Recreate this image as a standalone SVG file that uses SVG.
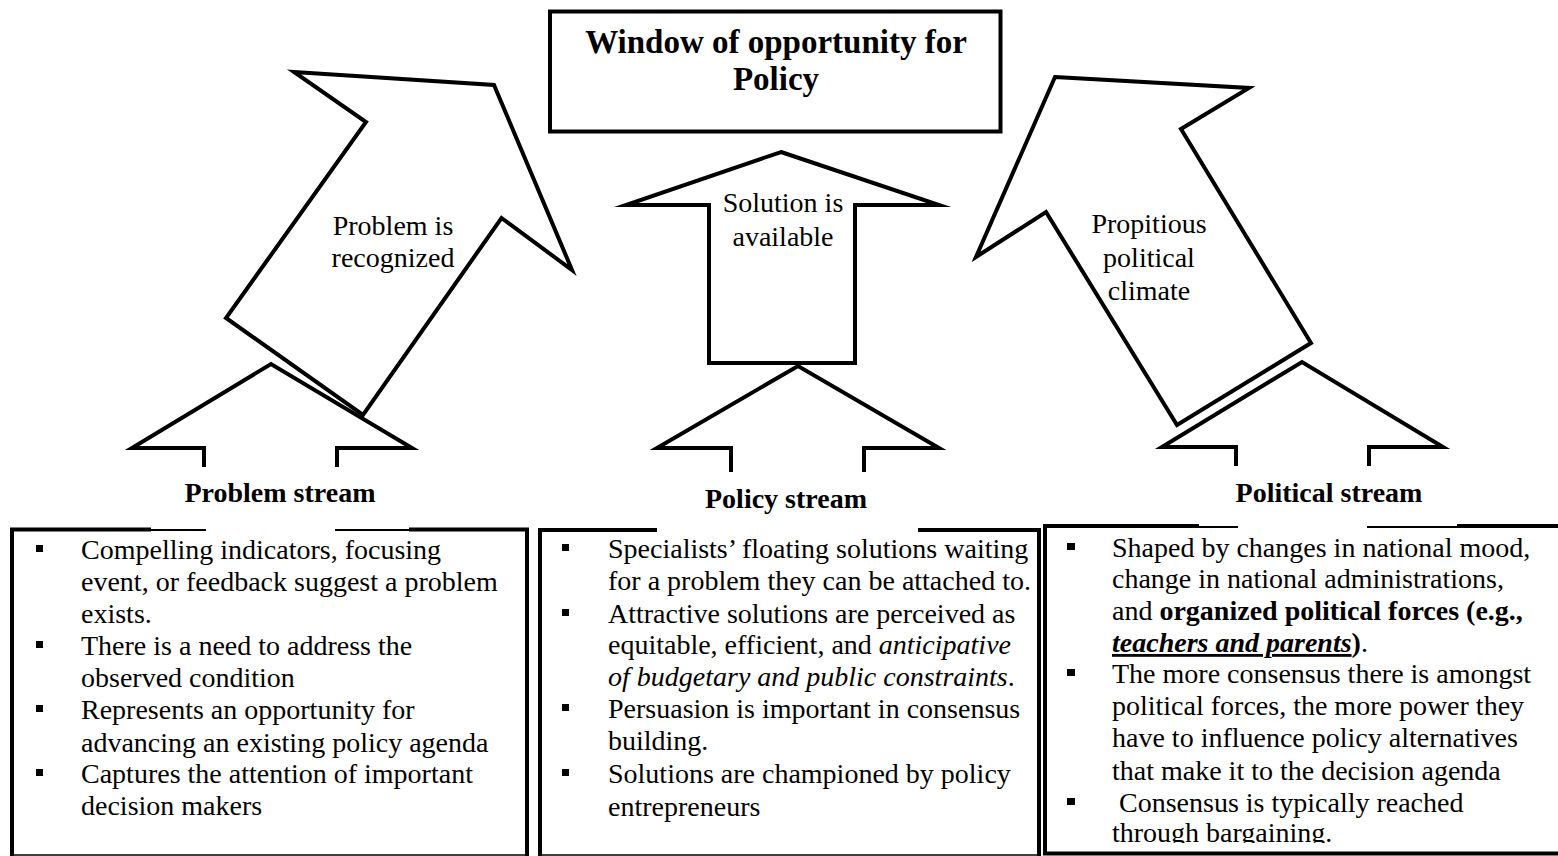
<svg xmlns="http://www.w3.org/2000/svg" width="1558" height="856" viewBox="0 0 1558 856">
  <style>
    .shape { fill: #ffffff; stroke: #000000; stroke-width: 4; stroke-linejoin: miter; stroke-miterlimit: 10; }
    .open { fill: none; stroke: #000000; stroke-width: 4; stroke-linejoin: miter; stroke-miterlimit: 10; }
    .edge { fill: none; stroke: #000000; stroke-width: 4; }
    .thin { fill: none; stroke: #000000; stroke-width: 2; }
    .hair { fill: none; stroke: #000000; stroke-width: 1.5; }
    text { font-family: "Liberation Serif", "Times New Roman", serif; fill: #000000; }
    .title { font-size: 33px; font-weight: bold; text-anchor: middle; }
    .label { font-size: 28px; text-anchor: middle; }
    .stream { font-size: 28px; font-weight: bold; text-anchor: middle; }
    .body { font-size: 28px; }
    .b { font-weight: bold; }
    .i { font-style: italic; }
    .bullet { fill: #000000; }
  </style>
  <defs>
    <clipPath id="politicalClip">
      <rect x="1047" y="528" width="511" height="315"/>
    </clipPath>
  </defs>

  <!-- goal box -->
  <g id="window-of-opportunity">
    <rect class="shape" x="550" y="11.5" width="450.5" height="120" stroke-width="4.5"/>
    <text class="title" x="776" y="53">Window of opportunity for</text>
    <text class="title" x="776" y="90">Policy</text>
  </g>

  <!-- large arrows carrying each stream towards the window -->
  <g id="connectors">
    <polygon class="shape" points="294,72 494,85 572,270 501.5,218 363,415 226,318 366,122"/>
    <polygon class="shape" points="781,152 939,205 855,205 855,363 709,363 709,205 626,205"/>
    <polygon class="shape" points="1055,77 1249,88 1181,129 1311,343 1177,425 1046,212 976,257"/>
    <path class="open" d="M204 467 V448 H132 L271 364 L412 448 H337 V467"/>
    <path class="open" d="M731 472 V448 H657 L798 366 L939 448 H864 V472"/>
    <path class="open" d="M1236 466 V447 H1162 L1302 362 L1443 447 H1369 V466"/>
  </g>

  <g id="label-problem-recognized">
    <text class="label" x="393" y="235">Problem is</text>
    <text class="label" x="393" y="267">recognized</text>
  </g>
  <g id="label-solution-available">
    <text class="label" x="783" y="212">Solution is</text>
    <text class="label" x="783" y="246">available</text>
  </g>
  <g id="label-political-climate">
    <text class="label" x="1149" y="233">Propitious</text>
    <text class="label" x="1149" y="267">political</text>
    <text class="label" x="1149" y="300">climate</text>
  </g>

  <!-- problem stream -->
  <g id="problem-stream">
    <text class="stream" x="280" y="502">Problem stream</text>
    <path class="edge" d="M12 527.5 V856 M527 527.5 V856 M10 529.5 H151 M409 529.5 H529"/>
    <path class="thin" d="M151 530 H206 M335 530 H409"/>
    <path class="hair" d="M10 855 H529"/>
    <rect class="bullet" x="36" y="545" width="7" height="7"/>
    <rect class="bullet" x="36" y="641" width="7" height="7"/>
    <rect class="bullet" x="36" y="705" width="7" height="7"/>
    <rect class="bullet" x="36" y="769" width="7" height="7"/>
    <text class="body" x="81" y="559">Compelling indicators, focusing</text>
    <text class="body" x="81" y="591">event, or feedback suggest a problem</text>
    <text class="body" x="81" y="623">exists.</text>
    <text class="body" x="81" y="655">There is a need to address the</text>
    <text class="body" x="81" y="687">observed condition</text>
    <text class="body" x="81" y="719">Represents an opportunity for</text>
    <text class="body" x="81" y="752">advancing an existing policy agenda</text>
    <text class="body" x="81" y="783">Captures the attention of important</text>
    <text class="body" x="81" y="815">decision makers</text>
  </g>

  <!-- policy stream -->
  <g id="policy-stream">
    <text class="stream" x="786" y="508">Policy stream</text>
    <path class="edge" d="M540 528 V856 M1039 528 V856 M538 530 H657 M918 530 H1041"/>
    <path class="hair" d="M538 855 H1041"/>
    <rect class="bullet" x="562" y="544" width="7" height="7"/>
    <rect class="bullet" x="562" y="609" width="7" height="7"/>
    <rect class="bullet" x="562" y="704" width="7" height="7"/>
    <rect class="bullet" x="562" y="769" width="7" height="7"/>
    <text class="body" x="608" y="558">Specialists’ floating solutions waiting</text>
    <text class="body" x="608" y="590">for a problem they can be attached to.</text>
    <text class="body" x="608" y="623">Attractive solutions are perceived as</text>
    <text class="body" x="608" y="654">equitable, efficient, and <tspan class="i">anticipative</tspan></text>
    <text class="body" x="608" y="686"><tspan class="i">of budgetary and public constraints</tspan>.</text>
    <text class="body" x="608" y="718">Persuasion is important in consensus</text>
    <text class="body" x="608" y="750">building.</text>
    <text class="body" x="608" y="783">Solutions are championed by policy</text>
    <text class="body" x="608" y="816">entrepreneurs</text>
  </g>

  <!-- political stream -->
  <g id="political-stream">
    <text class="stream" x="1329" y="502">Political stream</text>
    <path class="edge" d="M1045 524 V855 M1043 526 H1199 M1457 526 H1558 M1043 853.5 H1558"/>
    <path class="thin" d="M1199 527 H1238 M1367 527 H1457"/>
    <rect class="bullet" x="1067" y="543" width="8" height="7"/>
    <rect class="bullet" x="1067" y="669" width="8" height="7"/>
    <rect class="bullet" x="1067" y="798" width="8" height="7"/>
    <g clip-path="url(#politicalClip)">
      <text class="body" x="1112" y="557">Shaped by changes in national mood,</text>
      <text class="body" x="1112" y="588">change in national administrations,</text>
      <text class="body" x="1112" y="620">and <tspan class="b">organized political forces (e.g.,</tspan></text>
      <text class="body" x="1112" y="652"><tspan class="b i" text-decoration="underline">teachers and parents</tspan><tspan class="b">)</tspan>.</text>
      <text class="body" x="1112" y="683">The more consensus there is amongst</text>
      <text class="body" x="1112" y="715">political forces, the more power they</text>
      <text class="body" x="1112" y="747">have to influence policy alternatives</text>
      <text class="body" x="1112" y="780">that make it to the decision agenda</text>
      <text class="body" x="1119" y="812">Consensus is typically reached</text>
      <text class="body" x="1112" y="842">through bargaining.</text>
    </g>
  </g>
</svg>
